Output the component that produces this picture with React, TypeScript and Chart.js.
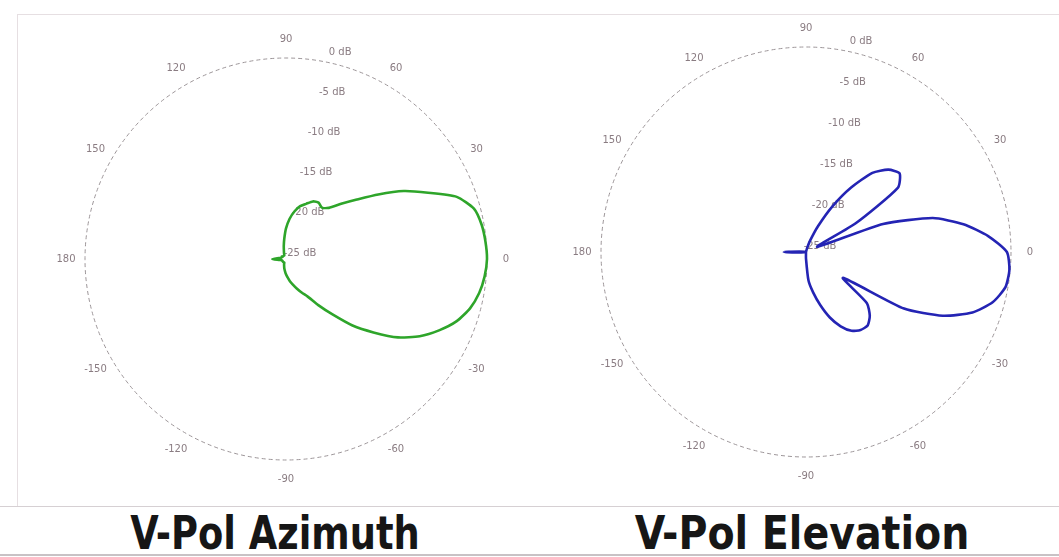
import React, { useEffect, useRef } from 'react';
import { Chart, registerables } from 'chart.js';

Chart.register(...registerables);

// Angle categories (degrees, counter-clockwise from the right-hand 0° direction)
const angleCategories = [
  0, 5, 10, 15, 20, 25, 30, 35, 40, 45, 50, 55, 60, 65, 70, 75, 80, 85,
  90, 95, 100, 105, 110, 115, 120, 125, 130, 135, 140, 145, 150, 155, 160, 165, 170, 175,
  180, 185, 190, 195, 200, 205, 210, 215, 220, 225, 230, 235, 240, 245, 250, 255, 260, 265,
  270, 275, 280, 285, 290, 295, 300, 305, 310, 315, 320, 325, 330, 335, 340, 345, 350, 355,
];

// V-Pol azimuth gain (dB) at each angle
const azimuthGain = [
  0, -0.1, -0.3, -0.8, -2.4, -5.5, -8.1, -11.0, -13.5, -15.3, -16.7, -17.2, -16.9, -17.1, -17.7, -18.2, -19.0, -20.0,
  -21.2, -22.5, -23.4, -24.0, -24.3, -24.5, -24.5, -24.5, -24.5, -24.5, -24.5, -24.5, -24.4, -24.4, -24.4, -24.4, -24.3, -23.9,
  -23.3, -23.9, -24.3, -24.4, -24.5, -24.5, -24.5, -24.5, -24.5, -24.5, -24.5, -24.5, -24.5, -24.5, -24.3, -24.1, -23.8, -23.5,
  -23.1, -22.7, -22.2, -21.7, -21.1, -20.4, -19.6, -18.0, -16.0, -13.3, -10.8, -8.0, -5.8, -4.0, -2.4, -1.3, -0.6, -0.2,
];

// V-Pol elevation gain (dB) at each angle
const elevationGain = [
  -0.5, -2.7, -5.5, -9.0, -15.0, -23.5, -18.0, -11.3, -10.1, -10.8, -12.4, -15.4, -18.6, -21.5, -23.5, -24.6, -25, -25,
  -25, -25, -25, -25, -25, -25, -25, -25, -25, -25, -25, -25, -25, -25, -25, -25, -25, -24.2,
  -22.3, -24.2, -25, -25, -25, -25, -25, -25, -25, -25, -25, -25, -25, -25, -25, -25, -25, -25,
  -24.2, -21.5, -20.0, -18.3, -16.5, -15.0, -13.9, -13.4, -13.3, -14.0, -15.3, -19.5, -11.2, -6.6, -3.4, -1.4, -0.3, -0.1,
];

// Angular tick labels
const angleTickValues = [0, 30, 60, 90, 120, 150, 180, 210, 240, 270, 300, 330];
const angleTickLabels = ['0', '30', '60', '90', '120', '150', '180', '-150', '-120', '-90', '-60', '-30'];

// Radial (ring) tick labels
const ringValues = [0, -5, -10, -15, -20, -25];
const ringLabels = ['0 dB', '-5 dB', '-10 dB', '-15 dB', '-20 dB', '-25 dB'];

const chartTitles = ['V-Pol Azimuth', 'V-Pol Elevation'];

const GAIN_MIN = -25;
const GAIN_MAX = 0;

// radar draws clockwise starting at startAngle; reverse so angles run counter-clockwise
function toRadarOrder<T>(arr: T[]): T[] {
  const n = arr.length;
  return arr.map((_, i) => arr[(n - i) % n]);
}

const polarLabelsPlugin = {
  id: 'polarLabels',
  beforeDatasetsDraw(chart: any) {
    const s = chart.scales.r;
    const ctx = chart.ctx;
    ctx.save();
    ctx.font = '10px "DejaVu Sans", sans-serif';
    ctx.fillStyle = '#8a7c82';
    ctx.textAlign = 'center';
    ctx.textBaseline = 'middle';
    const outer = s.getDistanceFromCenterForValue(s.max);
    angleTickValues.forEach((a, i) => {
      const t = (a * Math.PI) / 180;
      const d = outer + 19;
      ctx.fillText(angleTickLabels[i], s.xCenter + d * Math.cos(t), s.yCenter - d * Math.sin(t));
    });
    ringValues.forEach((v, i) => {
      const d = s.getDistanceFromCenterForValue(v);
      ctx.fillText(ringLabels[i], s.xCenter + 14 + 0.2 * d, s.yCenter - 6 - d);
    });
    ctx.restore();
  },
};

function PolarChart(props: { values: number[]; color: string; padY: number; width: number; height: number }) {
  const ref = useRef<HTMLCanvasElement>(null);
  useEffect(() => {
    if (!ref.current) return;
    const chart = new Chart(ref.current, {
      type: 'radar',
      data: {
        labels: toRadarOrder(angleCategories).map(String),
        datasets: [
          {
            data: toRadarOrder(props.values),
            borderColor: props.color,
            borderWidth: 2.6,
            pointRadius: 0,
            pointHoverRadius: 0,
            fill: false,
            tension: 0.2,
          },
        ],
      },
      options: {
        responsive: false,
        animation: false,
        events: [],
        layout: { padding: { top: props.padY, bottom: props.padY, left: 0, right: 0 } },
        plugins: { legend: { display: false }, tooltip: { enabled: false } },
        scales: {
          r: {
            min: GAIN_MIN,
            max: GAIN_MAX,
            startAngle: 90,
            ticks: { display: false, stepSize: 5 },
            pointLabels: { display: false },
            angleLines: { display: false },
            grid: {
              circular: true,
              lineWidth: 1,
              color: (c: any) => (c.tick && c.tick.value === GAIN_MAX ? '#9c9598' : 'rgba(0,0,0,0)'),
            },
            border: { dash: [4, 3] },
          } as any,
        },
      },
      plugins: [polarLabelsPlugin],
    });
    return () => chart.destroy();
  }, []);
  return <canvas ref={ref} width={props.width} height={props.height} style={{ width: props.width, height: props.height, display: 'block' }} />;
}

const titleStyle: React.CSSProperties = {
  position: 'absolute',
  top: 510,
  width: 500,
  textAlign: 'center',
  fontFamily: '"DejaVu Sans Condensed", "DejaVu Sans", sans-serif',
  fontWeight: 'bold',
  fontSize: 46,
  lineHeight: '46px',
  color: '#161616',
  whiteSpace: 'nowrap',
  transformOrigin: '50% 50%',
};

export default function App() {
  return (
    <div style={{ position: 'fixed', left: 0, top: 0, width: 1059, height: 557, background: '#fff', overflow: 'hidden' }}>
      <div style={{ position: 'absolute', left: 17, top: 14, width: 1042, height: 1, background: '#e6dfe2' }} />
      <div style={{ position: 'absolute', left: 17, top: 14, width: 1, height: 492, background: '#e6dfe2' }} />
      <div style={{ position: 'absolute', left: 0, top: 506, width: 1059, height: 1, background: '#d6d0d3' }} />
      <div style={{ position: 'absolute', left: 0, top: 554, width: 1059, height: 2, background: '#c8c2c5' }} />
      <div style={{ position: 'absolute', left: 36, top: 19 }}>
        <PolarChart values={azimuthGain} color="#2ea52a" padY={39} width={500} height={480} />
      </div>
      <div style={{ position: 'absolute', left: 556, top: 12 }}>
        <PolarChart values={elevationGain} color="#2424b4" padY={35} width={500} height={480} />
      </div>
      <div style={{ ...titleStyle, left: 25, transform: 'scaleX(0.89)' }}>{chartTitles[0]}</div>
      <div style={{ ...titleStyle, left: 552, transform: 'scaleX(0.955)' }}>{chartTitles[1]}</div>
    </div>
  );
}
